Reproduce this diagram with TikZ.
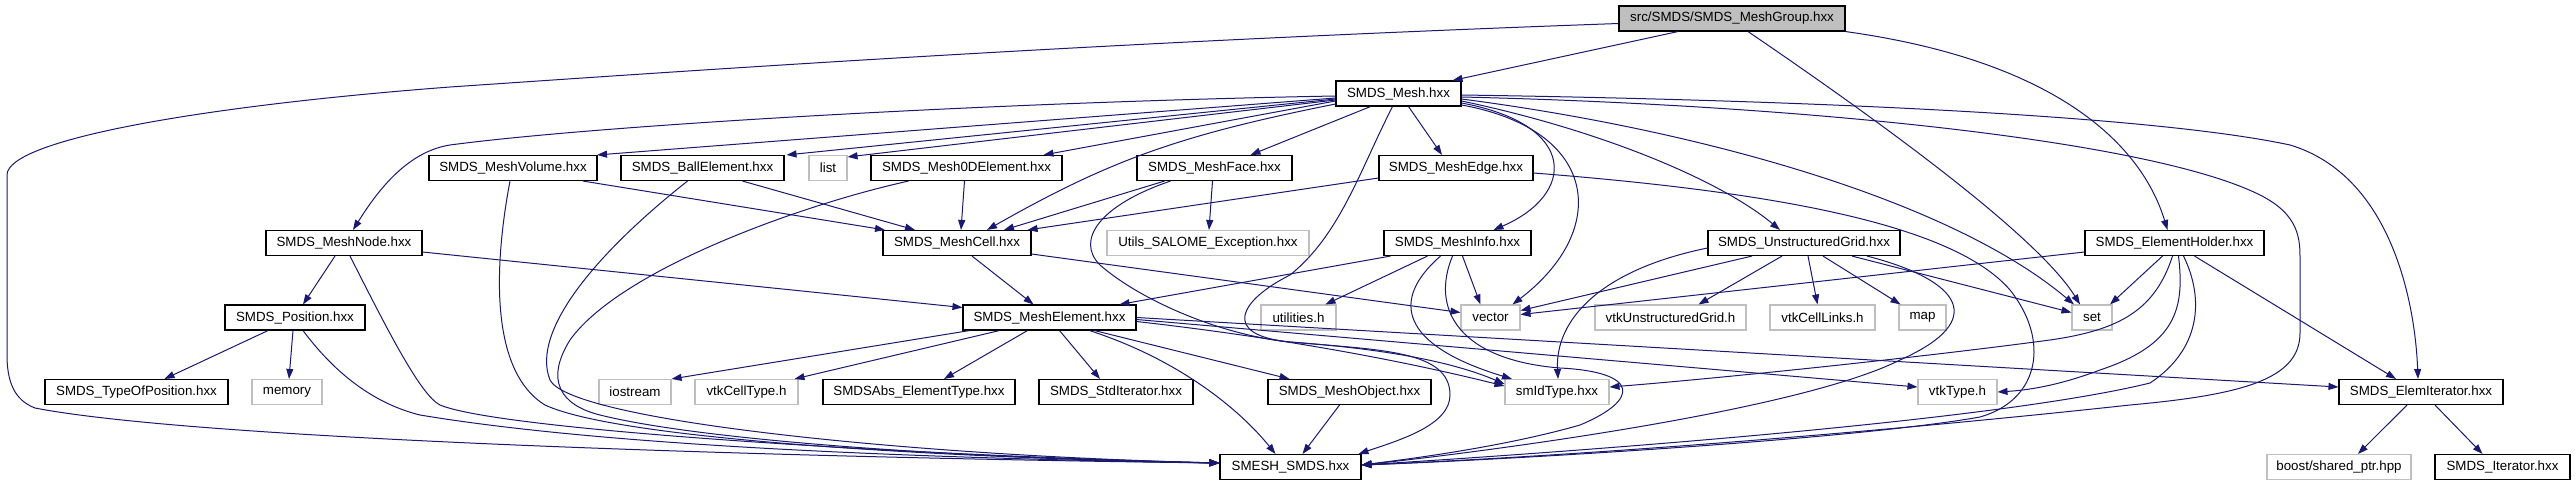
\documentclass[tikz,border=0pt]{standalone}
\usepackage{fontspec}
\usetikzlibrary{arrows.meta}
\newfontfamily\nodefont{Liberation Sans}
\definecolor{edgeblue}{RGB}{25,25,112}
\definecolor{greyext}{RGB}{191,191,191}
\begin{document}
\begin{tikzpicture}[x=1pt,y=-1pt,
  doc/.style={draw=black, line width=1.1pt, fill=white, minimum height=25pt, inner sep=0pt,
    font={\nodefont\fontsize{13.33}{16}\selectfont}},
  ext/.style={doc, draw=greyext},
  mainnode/.style={doc, fill=greyext},
  dep/.style={draw=edgeblue, line width=1pt, -{Triangle[length=10pt,width=7pt]}}]
\fill[white] (0,0) rectangle (2576,485);
\useasboundingbox (0,0) rectangle (2576,485);
% row 0
\node[mainnode, minimum width=226pt] (grp) at (1732,18.5) {src/SMDS/SMDS\_MeshGroup.hxx};
% row 1
\node[doc, minimum width=125pt] (mesh) at (1398.5,93.5) {SMDS\_Mesh.hxx};
% row 2
\node[doc, minimum width=168pt] (vol) at (513,168) {SMDS\_MeshVolume.hxx};
\node[doc, minimum width=163pt] (ball) at (702.5,168) {SMDS\_BallElement.hxx};
\node[ext, minimum width=38pt] (list) at (828,168) {list};
\node[doc, minimum width=191pt] (zero) at (966.5,168) {SMDS\_Mesh0DElement.hxx};
\node[doc, minimum width=155pt] (face) at (1214.5,168) {SMDS\_MeshFace.hxx};
\node[doc, minimum width=154pt] (edge) at (1456,168) {SMDS\_MeshEdge.hxx};
% row 3
\node[doc, minimum width=156pt] (node) at (344,243) {SMDS\_MeshNode.hxx};
\node[doc, minimum width=148pt] (cell) at (957,243) {SMDS\_MeshCell.hxx};
\node[ext, minimum width=202pt] (utils) at (1208,243) {Utils\_SALOME\_Exception.hxx};
\node[doc, minimum width=147pt] (info) at (1457.5,243) {SMDS\_MeshInfo.hxx};
\node[doc, minimum width=192pt] (ugrid) at (1804,243) {SMDS\_UnstructuredGrid.hxx};
\node[doc, minimum width=179pt] (holder) at (2174.5,243) {SMDS\_ElementHolder.hxx};
% row 4
\node[doc, minimum width=140pt] (pos) at (295,317.5) {SMDS\_Position.hxx};
\node[doc, minimum width=173pt] (elem) at (1049.5,317.5) {SMDS\_MeshElement.hxx};
\node[ext, minimum width=75pt] (utilh) at (1298.5,317.5) {utilities.h};
\node[ext, minimum width=59pt] (vector) at (1490.5,317.5) {vector};
\node[ext, minimum width=151pt] (vtkug) at (1670.5,317.5) {vtkUnstructuredGrid.h};
\node[ext, minimum width=105pt] (links) at (1822.5,317.5) {vtkCellLinks.h};
\node[ext, minimum width=47pt] (map) at (1922.5,317.5) {map};
\node[ext, minimum width=40pt] (set) at (2092,317.5) {set};
% row 5
\node[doc, minimum width=183pt] (top) at (136.5,392) {SMDS\_TypeOfPosition.hxx};
\node[ext, minimum width=70pt] (memory) at (287,392) {memory};
\node[ext, minimum width=72pt] (iostream) at (635,392) {iostream};
\node[ext, minimum width=103pt] (celltype) at (746.5,392) {vtkCellType.h};
\node[doc, minimum width=192pt] (abs) at (919,392) {SMDSAbs\_ElementType.hxx};
\node[doc, minimum width=154pt] (std) at (1116,392) {SMDS\_StdIterator.hxx};
\node[doc, minimum width=163pt] (obj) at (1349.5,392) {SMDS\_MeshObject.hxx};
\node[ext, minimum width=104pt] (smid) at (1557,392) {smIdType.hxx};
\node[ext, minimum width=79pt] (vtktype) at (1957.5,392) {vtkType.h};
\node[doc, minimum width=164pt] (elemit) at (2421,392) {SMDS\_ElemIterator.hxx};
% row 6
\node[doc, minimum width=141pt] (smesh) at (1290.5,467) {SMESH\_SMDS.hxx};
\node[ext, minimum width=144pt] (boost) at (2339,467) {boost/shared\_ptr.hpp};
\node[doc, minimum width=135pt] (iter) at (2502.5,467) {SMDS\_Iterator.hxx};

% ---- MeshGroup
\draw[dep] ([xshift=-54]grp.south) -- ([xshift=54]mesh.north);
\draw[dep] ([yshift=-5]grp.west) .. controls (1100,42) and (700,70) .. (450,87)
  .. controls (200,106) and (7,140) .. (7,175) -- (7,355)
  .. controls (7,390) and (20,402) .. (35,408)
  .. controls (200,440) and (800,458) .. ([yshift=4]smesh.west);
\draw[dep] ([xshift=16]grp.south) .. controls (1900,135) and (2040,240) .. ([xshift=-12]set.north);
\draw[dep] (grp.south east) .. controls (2050,60) and (2140,140) .. ([xshift=-7]holder.north);
% ---- Mesh
\draw[dep] ([yshift=-2.5]mesh.west) .. controls (1000,102) and (600,125) .. (450,145)
  .. controls (405,152) and (375,195) .. ([xshift=9]node.north);
\draw[dep] ([yshift=-4.5]mesh.west) -- ([xshift=84]vol.north);
\draw[dep] ([yshift=-5.5]mesh.west) -- ([xshift=84]ball.north);
\draw[dep] ([yshift=-6.5]mesh.west) -- ([yshift=-2]list.north east);
\draw[dep] ([yshift=-7.5]mesh.west) -- ([xshift=77]zero.north);
\draw[dep] ([yshift=-10.5]mesh.west) .. controls (1180,135) and (1110,160) .. ([xshift=30]cell.north);
\draw[dep] ([xshift=-28]mesh.south) -- ([xshift=36]face.north);
\draw[dep] ([xshift=10]mesh.south) -- ([xshift=-14]edge.north);
\draw[dep] ([yshift=-9.5]mesh.east) .. controls (1580,125) and (1575,195) .. ([xshift=36]info.north);
\draw[dep] ([yshift=-11.5]mesh.east) .. controls (1600,130) and (1610,230) .. ([xshift=22]vector.north);
\draw[dep] ([yshift=-7.5]mesh.east) .. controls (1600,130) and (1720,180) .. ([xshift=-24]ugrid.north);
\draw[dep] ([yshift=-5.5]mesh.east) .. controls (1700,130) and (1950,200) .. ([xshift=-18]set.north);
\draw[dep] ([yshift=-1.5]mesh.east) .. controls (1800,100) and (2150,115) .. (2290,145)
  .. controls (2390,175) and (2415,300) .. ([xshift=-3]elemit.north);
\draw[dep] ([yshift=-3.5]mesh.east) .. controls (1800,105) and (2150,140) .. (2260,195)
  .. controls (2300,215) and (2300,240) .. (2300,260) -- (2300,333)
  .. controls (2300,380) and (2240,395) .. (2130,405)
  .. controls (1900,430) and (1600,455) .. ([yshift=2]smesh.east);
\draw[dep] ([xshift=-6]mesh.south) .. controls (1360,170) and (1340,235) .. (1290,275)
  .. controls (1240,300) and (1220,335) .. (1290,342)
  .. controls (1400,350) and (1460,365) .. ([yshift=8]smid.west);
% ---- MeshNode / Position
\draw[dep] ([xshift=-9]node.south) -- ([xshift=8]pos.north);
\draw[dep] ([yshift=-9]node.east) -- ([yshift=10]elem.west);
\draw[dep] ([xshift=6]node.south) .. controls (385,325) and (420,395) .. (440,405)
  .. controls (500,430) and (900,455) .. ([yshift=4]smesh.west);
\draw[dep] ([xshift=-27]pos.south) -- ([xshift=28]top.north);
\draw[dep] ([xshift=-2]pos.south) -- ([xshift=2]memory.north);
\draw[dep] ([xshift=8]pos.south) .. controls (340,380) and (380,405) .. (420,415)
  .. controls (600,445) and (900,458) .. ([yshift=4]smesh.west);
% ---- Volume / Ball / 0D
\draw[dep] ([xshift=-3]vol.south) .. controls (495,260) and (488,370) .. (545,405)
  .. controls (620,440) and (950,458) .. ([yshift=4]smesh.west);
\draw[dep] ([xshift=70]vol.south) -- ([xshift=-72]cell.north);
\draw[dep] ([xshift=40]ball.south) -- ([xshift=-42]cell.north);
\draw[dep] ([xshift=-15]ball.south) .. controls (600,250) and (530,330) .. (550,380)
  .. controls (570,420) and (900,455) .. ([yshift=4]smesh.west);
\draw[dep] ([xshift=-2]zero.south) -- ([xshift=4]cell.north);
\draw[dep] ([xshift=-58]zero.south) .. controls (800,205) and (620,270) .. (570,340)
  .. controls (545,380) and (560,405) .. (600,415)
  .. controls (700,440) and (950,458) .. ([yshift=4]smesh.west);
% ---- Face / Edge
\draw[dep] ([xshift=-50]face.south) -- ([xshift=47]cell.north);
\draw[dep] ([xshift=-2]face.south) -- ([xshift=1]utils.north);
\draw[dep] ([xshift=-44]face.south) .. controls (1100,205) and (1075,240) .. (1100,265)
  .. controls (1140,300) and (1220,335) .. (1290,342)
  .. controls (1380,350) and (1450,350) .. (1450,395)
  .. controls (1450,425) and (1400,440) .. ([xshift=68]smesh.north);
\draw[dep] ([yshift=-10]edge.west) -- ([xshift=-4]cell.north east);
\draw[dep] ([yshift=-5]edge.east) .. controls (1750,190) and (1950,220) .. (2010,290)
  .. controls (2050,340) and (2040,400) .. (1980,417)
  .. controls (1850,440) and (1500,460) .. ([yshift=2]smesh.east);
% ---- Cell
\draw[dep] ([xshift=15]cell.south) -- ([xshift=-16]elem.north);
\draw[dep] ([yshift=-11]cell.east) -- ([yshift=5]vector.west);
% ---- Info
\draw[dep] ([xshift=-67]info.south) -- ([xshift=70]elem.north);
\draw[dep] ([xshift=-30]info.south) -- ([xshift=27]utilh.north);
\draw[dep] ([xshift=5]info.south) -- ([xshift=-10]vector.north);
\draw[dep] ([xshift=-17]info.south) .. controls (1390,300) and (1400,345) .. ([xshift=-45]smid.north);
\draw[dep] ([xshift=-5]info.south) .. controls (1430,310) and (1460,360) .. (1560,368)
  .. controls (1640,372) and (1640,400) .. (1580,425)
  .. controls (1500,448) and (1400,460) .. ([yshift=2]smesh.east);
% ---- UnstructuredGrid
\draw[dep] ([yshift=-5]ugrid.west) .. controls (1600,270) and (1555,320) .. ([xshift=1]smid.north);
\draw[dep] ([xshift=-52]ugrid.south) -- ([yshift=7]vector.east);
\draw[dep] ([xshift=-22]ugrid.south) -- ([xshift=28]vtkug.north);
\draw[dep] ([xshift=4]ugrid.south) -- ([xshift=-5]links.north);
\draw[dep] ([xshift=19]ugrid.south) -- ([xshift=-22]map.north);
\draw[dep] ([xshift=48]ugrid.south) -- ([yshift=5]set.west);
\draw[dep] ([xshift=63]ugrid.south) .. controls (1960,280) and (1990,320) .. (1900,360)
  .. controls (1800,410) and (1500,450) .. ([yshift=2]smesh.east);
% ---- ElementHolder
\draw[dep] ([yshift=-9]holder.west) -- ([yshift=3]vector.east);
\draw[dep] ([xshift=-12]holder.south) -- ([xshift=18]set.north);
\draw[dep] ([xshift=-2]holder.south) .. controls (2155,310) and (2120,330) .. (2050,340)
  .. controls (1900,360) and (1700,380) .. ([yshift=5]smid.east);
\draw[dep] ([xshift=4]holder.south) .. controls (2185,310) and (2175,345) .. (2100,370)
  .. controls (2060,385) and (2030,390) .. (vtktype.east);
\draw[dep] ([xshift=9]holder.south) .. controls (2205,300) and (2200,350) .. (2150,383)
  .. controls (2000,420) and (1600,450) .. ([yshift=2]smesh.east);
\draw[dep] ([xshift=20]holder.south) -- ([xshift=-25]elemit.north);
% ---- MeshElement
\draw[dep] ([xshift=-80]elem.south) -- (iostream.north east);
\draw[dep] ([xshift=-50]elem.south) -- ([xshift=48]celltype.north);
\draw[dep] ([xshift=-22]elem.south) -- ([xshift=25]abs.north);
\draw[dep] ([xshift=10]elem.south) -- ([xshift=-16]std.north);
\draw[dep] ([xshift=45]elem.south) -- ([xshift=-60]obj.north);
\draw[dep] ([xshift=40]elem.south) .. controls (1180,360) and (1240,410) .. ([xshift=-15]smesh.north);
\draw[dep] ([yshift=-4]elem.east) .. controls (1300,340) and (1420,365) .. ([yshift=6]smid.west);
\draw[dep] ([yshift=-2]elem.east) -- ([yshift=5]vtktype.west);
\draw[dep] (elem.east) -- ([yshift=5]elemit.west);
% ---- others
\draw[dep] ([xshift=-10]obj.south) -- ([xshift=12]smesh.north);
\draw[dep] ([xshift=-14]elemit.south) -- ([xshift=19]boost.north);
\draw[dep] ([xshift=14]elemit.south) -- ([xshift=-20]iter.north);
\end{tikzpicture}
\end{document}
